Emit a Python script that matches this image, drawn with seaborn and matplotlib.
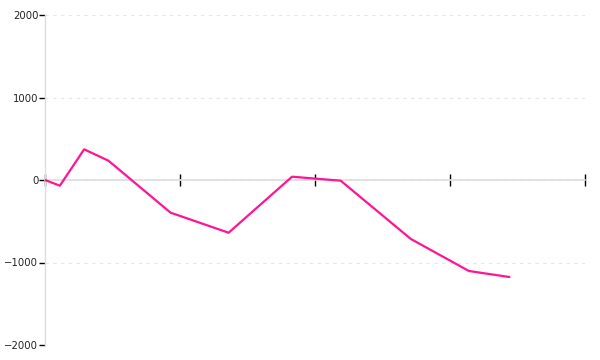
import matplotlib
matplotlib.use("Agg")
import matplotlib.pyplot as plt
import seaborn as sns
import pandas as pd

x_values = [0, 1.1, 2.9, 4.7, 9.3, 13.6, 18.3, 20.0, 21.9, 27.1, 31.4, 34.4]
y_values = [0, -69, 372, 234, -396, -639, 40, 17, -8, -715, -1103, -1176]
y_ticks = [-2000, -1000, 0, 1000, 2000]
x_ticks = [0, 10, 20, 30, 40]

df = pd.DataFrame({"x": x_values, "y": y_values})

sns.set_theme(style="white")
plt.rcParams['font.family'] = ['DejaVu Sans']

fig = plt.figure(figsize=(6, 3.6), dpi=100)
ax = fig.add_axes([0.075, 1 - 345 / 360, 0.9, 330 / 360])

sns.lineplot(data=df, x="x", y="y", ax=ax, color="#ff1493", linewidth=1.6, zorder=3)

ax.set_xlim(0, 40)
ax.set_ylim(-2000, 2000)
ax.set_yticks(y_ticks)
ax.set_yticklabels([str(v).replace('-', '\u2212') for v in y_ticks])
ax.set_xticks(x_ticks)
ax.set_xticklabels([])
ax.set_xlabel("")
ax.set_ylabel("")

for s in ["top", "right"]:
    ax.spines[s].set_visible(False)
ax.spines["bottom"].set_position(("data", 0))
ax.spines["bottom"].set_color("#dddddd")
ax.spines["left"].set_color("#dddddd")
ax.spines["bottom"].set_linewidth(1.2)
ax.spines["left"].set_linewidth(1.0)

ax.tick_params(axis="y", direction="out", length=4.3, width=1, color="black",
               labelsize=7.3, labelcolor="#222222", pad=0.5, left=True)
ax.tick_params(axis="x", direction="inout", length=8, width=1, color="black", bottom=True)

ax.yaxis.grid(True, color="#e6e6e6", linestyle=(0, (3, 4)), linewidth=0.8)
ax.xaxis.grid(False)
ax.set_axisbelow(True)

fig.savefig("out.png", dpi=100)
